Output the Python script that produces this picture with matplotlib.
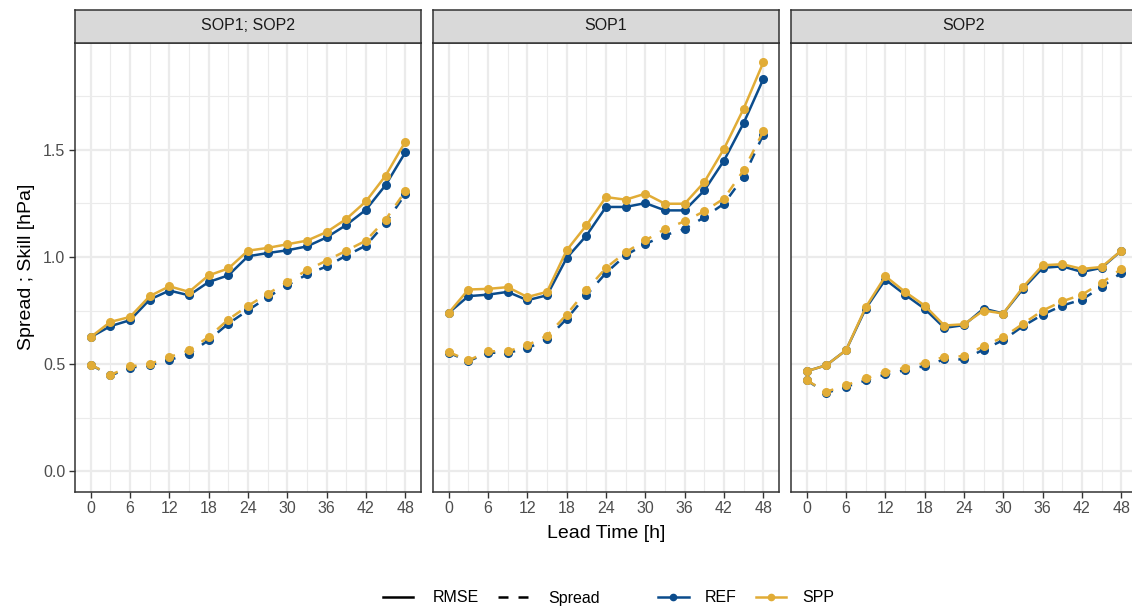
import matplotlib
matplotlib.use("Agg")
import matplotlib.pyplot as plt
from matplotlib.lines import Line2D
import numpy as np

plt.rcParams['font.family'] = ['Liberation Sans', 'DejaVu Sans']

lead = [0, 3, 6, 9, 12, 15, 18, 21, 24, 27, 30, 33, 36, 39, 42, 45, 48]
panels = ["SOP1; SOP2", "SOP1", "SOP2"]

# SOP1; SOP2
p1_ref_rmse = [0.626, 0.677, 0.705, 0.801, 0.843, 0.821, 0.883, 0.914, 1.003, 1.018, 1.031, 1.049, 1.091, 1.149, 1.220, 1.335, 1.487]
p1_spp_rmse = [0.626, 0.697, 0.720, 0.817, 0.863, 0.837, 0.914, 0.946, 1.029, 1.042, 1.059, 1.076, 1.116, 1.177, 1.259, 1.379, 1.537]
p1_ref_spread = [0.497, 0.447, 0.483, 0.495, 0.519, 0.548, 0.612, 0.689, 0.751, 0.812, 0.868, 0.918, 0.956, 1.006, 1.053, 1.158, 1.293]
p1_spp_spread = [0.497, 0.450, 0.489, 0.501, 0.533, 0.564, 0.627, 0.708, 0.772, 0.828, 0.883, 0.938, 0.983, 1.029, 1.076, 1.174, 1.306]

# SOP1
p2_ref_rmse = [0.739, 0.817, 0.824, 0.837, 0.798, 0.821, 0.995, 1.099, 1.233, 1.233, 1.251, 1.217, 1.217, 1.310, 1.449, 1.624, 1.829]
p2_spp_rmse = [0.739, 0.848, 0.851, 0.859, 0.813, 0.837, 1.031, 1.147, 1.279, 1.267, 1.295, 1.248, 1.248, 1.349, 1.504, 1.691, 1.907]
p2_ref_spread = [0.553, 0.514, 0.553, 0.553, 0.573, 0.618, 0.711, 0.821, 0.925, 1.008, 1.060, 1.101, 1.130, 1.185, 1.248, 1.373, 1.570]
p2_spp_spread = [0.556, 0.517, 0.560, 0.560, 0.588, 0.633, 0.731, 0.845, 0.949, 1.022, 1.077, 1.130, 1.166, 1.213, 1.272, 1.404, 1.585]

# SOP2
p3_ref_rmse = [0.467, 0.495, 0.565, 0.759, 0.894, 0.824, 0.758, 0.669, 0.682, 0.759, 0.736, 0.851, 0.949, 0.956, 0.930, 0.949, 1.029]
p3_spp_rmse = [0.467, 0.495, 0.565, 0.765, 0.910, 0.837, 0.773, 0.680, 0.686, 0.750, 0.736, 0.859, 0.961, 0.966, 0.944, 0.953, 1.029]
p3_ref_spread = [0.424, 0.366, 0.394, 0.424, 0.452, 0.472, 0.491, 0.522, 0.522, 0.568, 0.612, 0.677, 0.731, 0.773, 0.801, 0.860, 0.926]
p3_spp_spread = [0.424, 0.371, 0.402, 0.433, 0.463, 0.483, 0.506, 0.534, 0.537, 0.584, 0.626, 0.688, 0.750, 0.793, 0.824, 0.879, 0.944]

data = [
    (p1_ref_rmse, p1_spp_rmse, p1_ref_spread, p1_spp_spread),
    (p2_ref_rmse, p2_spp_rmse, p2_ref_spread, p2_spp_spread),
    (p3_ref_rmse, p3_spp_rmse, p3_ref_spread, p3_spp_spread),
]

xticks = [0, 6, 12, 18, 24, 30, 36, 42, 48]
yticks = [0.0, 0.5, 1.0, 1.5]
ytick_labels = ["0.0", "0.5", "1.0", "1.5"]

BLUE = "#0B4C8C"
GOLD = "#E1AC36"
GRID = "#EBEBEB"
BORDER = "#333333"
TICKC = "#4D4D4D"

W, H = 1132, 610
fig = plt.figure(figsize=(W / 100, H / 100), dpi=100)
fig.patch.set_facecolor("white")

lefts = [75, 433, 791]
pw = 346
ptop, pbot = 42.5, 491.7
stop = 9.5
LW = 1.8
MS = 5.5
dash = (0, (4, 4))

for i, (left, name) in enumerate(zip(lefts, panels)):
    ax = fig.add_axes([left / W, 1 - pbot / H, pw / W, (pbot - ptop) / H])
    ref_r, spp_r, ref_s, spp_s = data[i]
    ax.set_xlim(-2.4, 50.4)
    ax.set_ylim(-0.095, 2.0)
    ax.set_xticks(xticks)
    ax.set_xticks([3, 9, 15, 21, 27, 33, 39, 45], minor=True)
    ax.set_yticks(yticks)
    ax.set_yticks([0.25, 0.75, 1.25, 1.75], minor=True)
    ax.grid(True, which="major", color=GRID, lw=1.6, zorder=0)
    ax.grid(True, which="minor", color=GRID, lw=0.8, zorder=0)
    ax.set_axisbelow(True)
    for sp in ax.spines.values():
        sp.set_color(BORDER)
        sp.set_linewidth(1.1)
    ax.tick_params(which="minor", length=0)
    ax.tick_params(which="major", length=4, width=1.0, color=BORDER,
                   labelsize=11.5, labelcolor=TICKC, pad=3)
    if i == 0:
        ax.set_yticklabels(ytick_labels)
        ax.set_ylabel("Spread ; Skill [hPa]", fontsize=14, color="black", labelpad=6)
    else:
        ax.set_yticklabels([])
        ax.tick_params(axis="y", length=0)

    ax.plot(lead, ref_s, color=BLUE, lw=LW, ls=dash, marker="o", ms=MS, zorder=3)
    ax.plot(lead, spp_s, color=GOLD, lw=LW, ls=dash, marker="o", ms=MS, zorder=4)
    ax.plot(lead, ref_r, color=BLUE, lw=LW, marker="o", ms=MS, zorder=3)
    ax.plot(lead, spp_r, color=GOLD, lw=LW, marker="o", ms=MS, zorder=4)

    sax = fig.add_axes([left / W, 1 - ptop / H, pw / W, (ptop - stop) / H])
    sax.set_facecolor("#D9D9D9")
    sax.set_xticks([])
    sax.set_yticks([])
    for sp in sax.spines.values():
        sp.set_color(BORDER)
        sp.set_linewidth(1.1)
    sax.text(0.5, 0.5, name, ha="center", va="center", fontsize=11.5,
             color="#1A1A1A", transform=sax.transAxes)

fig.text(606 / W, 1 - 533 / H, "Lead Time [h]", ha="center", va="center",
         fontsize=14, color="black")

h_type = [Line2D([], [], color="black", lw=LW, ls="-"),
          Line2D([], [], color="black", lw=LW, ls=dash)]
leg1 = fig.legend(h_type, ["RMSE", "Spread"], loc="center", ncol=2,
                  bbox_to_anchor=(491.5 / W, 1 - 598 / H), frameon=False,
                  fontsize=11.5, handlelength=1.9, columnspacing=1.2, handletextpad=1.25)
h_mod = [Line2D([], [], color=BLUE, lw=LW, marker="o", ms=MS - 1),
         Line2D([], [], color=GOLD, lw=LW, marker="o", ms=MS - 1)]
leg2 = fig.legend(h_mod, ["REF", "SPP"], loc="center", ncol=2,
                  bbox_to_anchor=(746 / W, 1 - 598 / H), frameon=False,
                  fontsize=11.5, handlelength=1.9, columnspacing=1.2, handletextpad=1.0)

fig.savefig("out.png", dpi=100)
